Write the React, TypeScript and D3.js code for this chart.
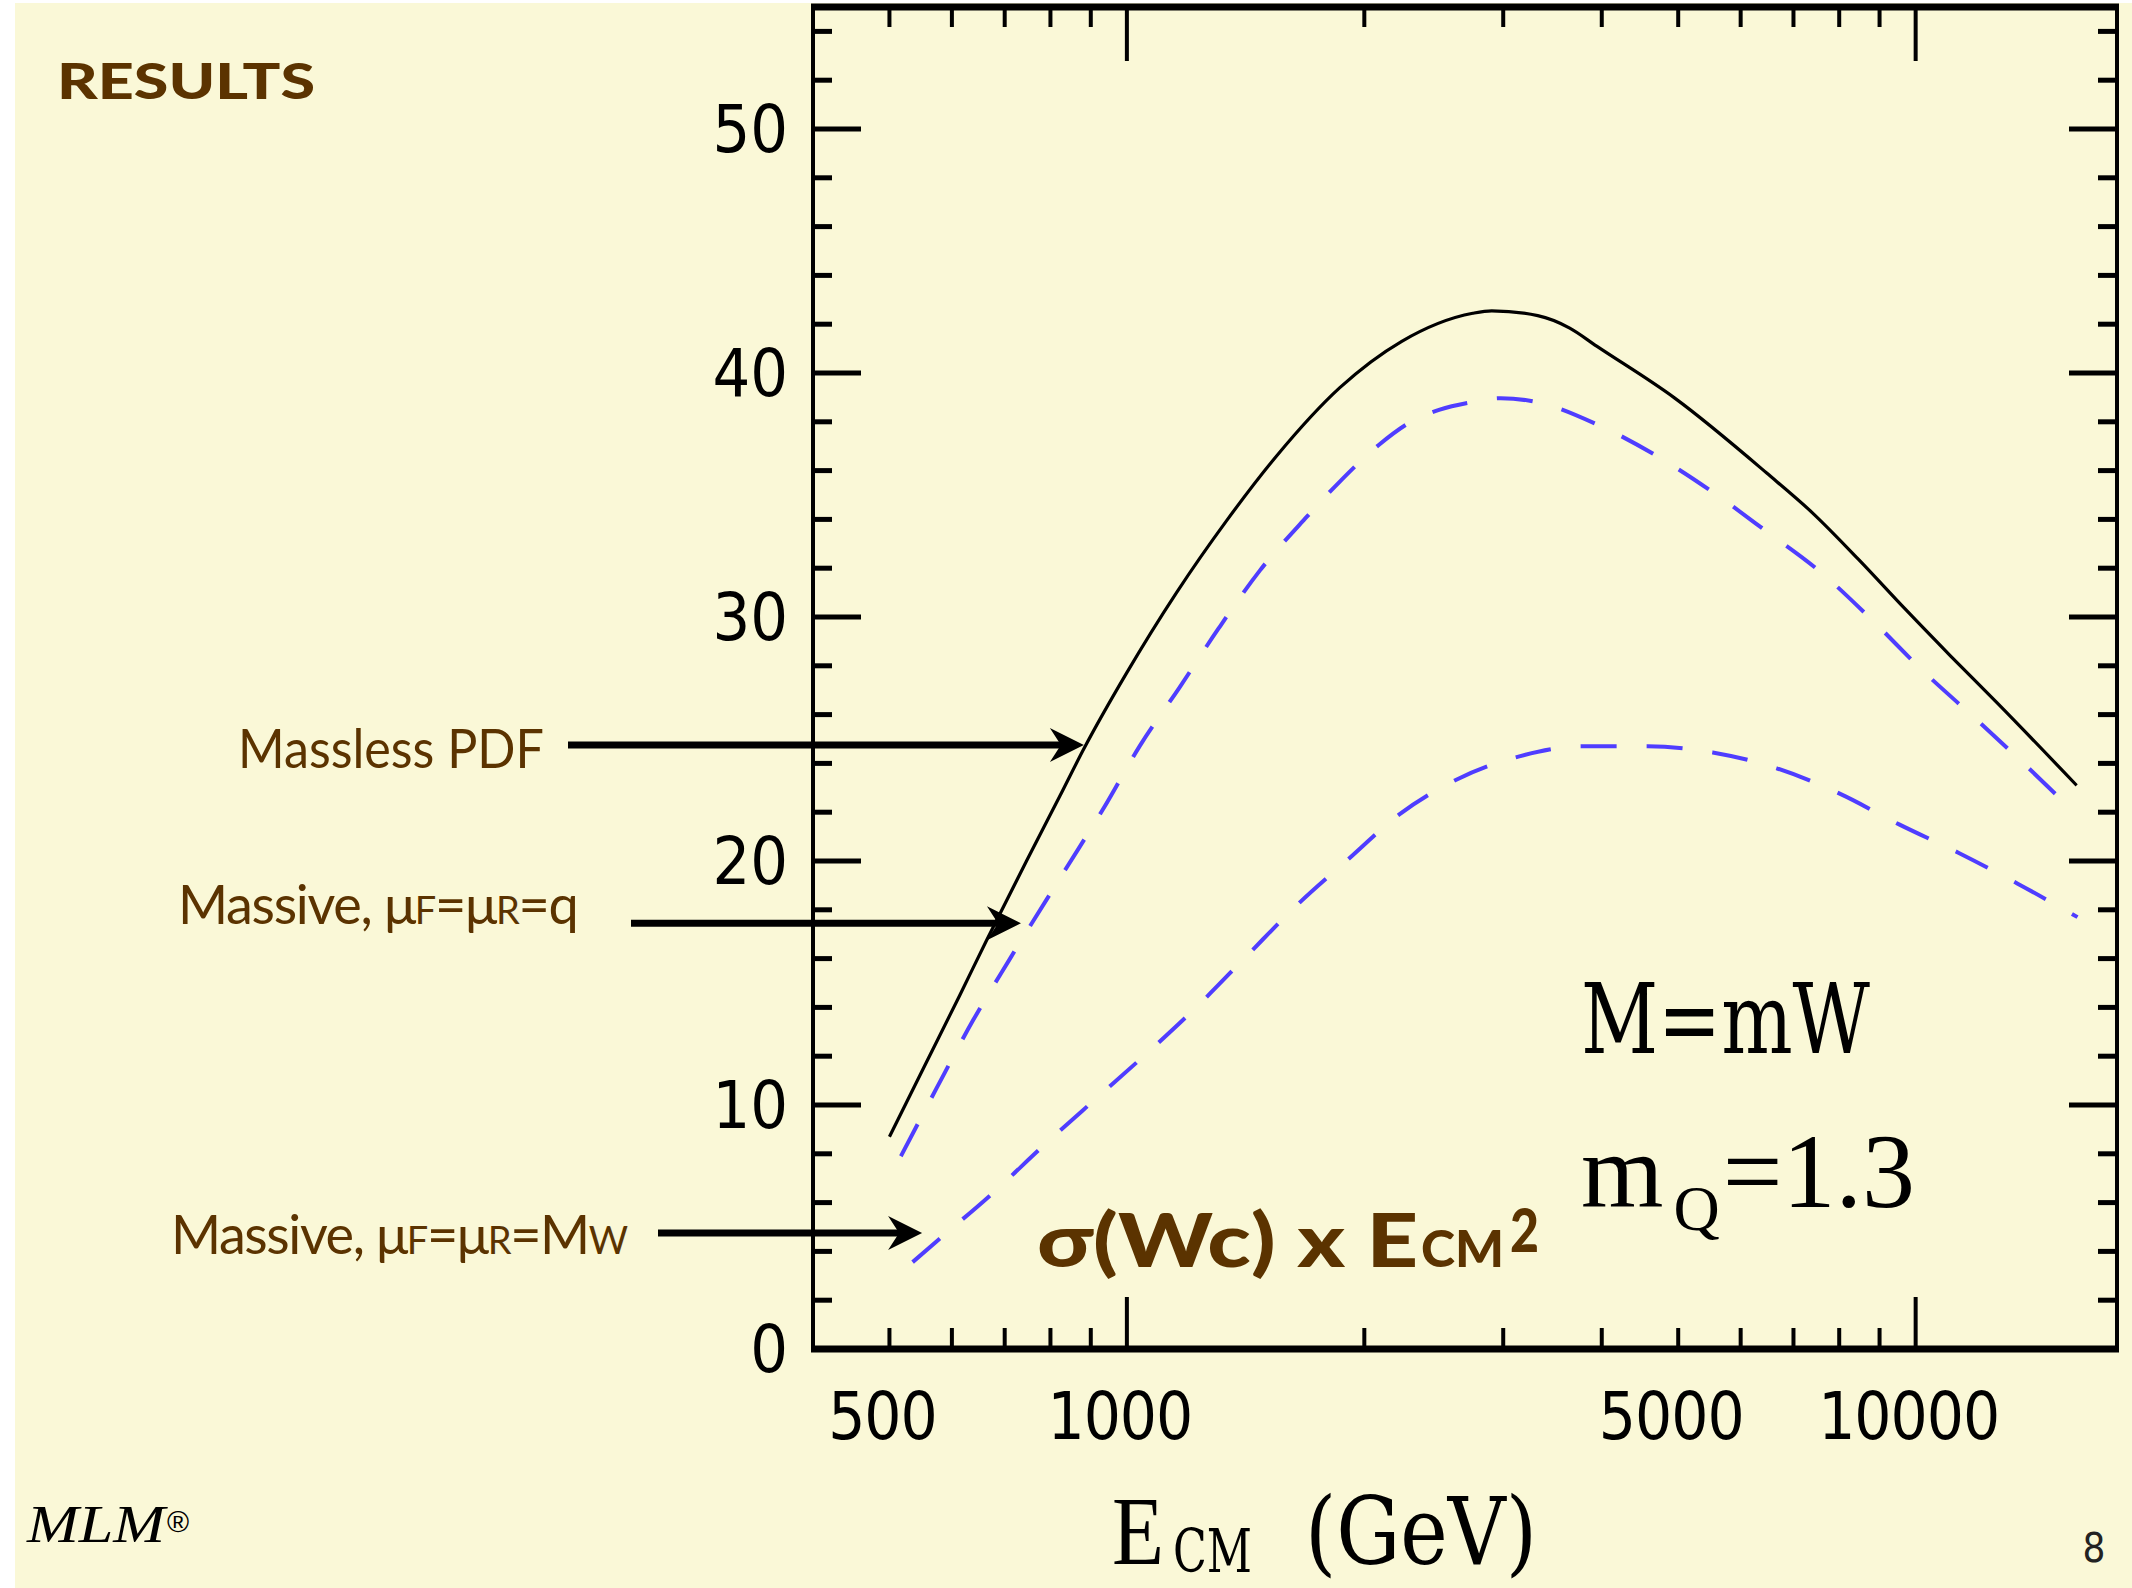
import { useEffect } from 'react'
import * as d3 from 'd3'

// sigma(Wc) x Ecm^2 vs Ecm (GeV)
const masslessPdf: [number, number][] = [
  [500, 8.7], [557, 11.75], [614, 14.5], [664, 16.75], [746, 20.0], [822, 22.65], [882, 24.6],
  [999, 27.7], [1156, 31.0], [1338, 33.95], [1548, 36.6], [1862, 39.4], [2231, 41.3],
  [2745, 42.45], [2901, 42.55], [3318, 42.35], [3643, 41.84], [3941, 41.1], [4950, 38.97],
  [6474, 35.9], [7404, 34.26], [8470, 32.35], [9683, 30.35], [11076, 28.4], [12668, 26.5],
  [16000, 23.1],
]
const massiveQ: [number, number][] = [
  [517, 7.9], [574, 10.7], [639, 13.5], [711, 16.0], [835, 19.63], [933, 22.13],
  [1039, 24.73], [1167, 27.13], [1305, 29.5], [1474, 31.9], [1690, 34.1], [1862, 35.55],
  [2086, 37.05], [2278, 37.95], [2493, 38.5], [2729, 38.8], [2979, 38.97], [3318, 38.8],
  [3941, 37.9], [4697, 36.6], [5512, 35.15], [6474, 33.5], [7602, 31.8], [8822, 29.85],
  [10207, 27.8], [11844, 25.9], [13707, 24.0], [16000, 21.9],
]
const massiveMw: [number, number][] = [
  [535, 3.56], [578, 4.5], [676, 6.39], [785, 8.35], [912, 10.24], [1060, 12.12],
  [1231, 14.08], [1420, 16.12], [1639, 18.16], [1905, 20.05], [2213, 21.9], [2620, 23.34],
  [3145, 24.29], [3784, 24.7], [4574, 24.7], [5530, 24.45], [6665, 23.8], [8023, 22.75],
  [9528, 21.5], [11327, 20.34], [13469, 19.07], [16040, 17.7],
]

const xLabels = [500, 1000, 5000, 10000]
const xMajor = [1000, 10000]
const xMinor = [500, 600, 700, 800, 900, 2000, 3000, 4000, 5000, 6000, 7000, 8000, 9000]
const yMajor = [0, 10, 20, 30, 40, 50]
const yMinor = [2, 4, 6, 8, 12, 14, 16, 18, 22, 24, 26, 28, 32, 34, 36, 38, 42, 44, 46, 48, 52, 54]

// arrows point at these (E, value) spots
const arrowTipE = [882, 734, 550]
const arrowTipV = [24.75, 17.45, 4.75]

const BG = '#faf8d7'
const BROWN = '#5b3300'
const BLUE = '#4f3dff'
const SANS = 'Lato, "Open Sans", sans-serif'
const NUM = '"Liberation Sans Narrow", "DejaVu Sans Condensed", "Liberation Sans", sans-serif'
const SERIF = '"DejaVu Serif", "Liberation Serif", serif'
const LSERIF = '"Liberation Serif", serif'

const App = () => {
  useEffect(() => {
    document.body.style.margin = '0'
  }, [])

  const W = 2132
  const H = 1588
  const left = 813, right = 2117, top = 7, bottom = 1349

  const x = d3.scaleLog().domain([400, 18000]).range([left, right])
  const y = d3.scaleLinear().domain([0, 55]).range([bottom, top])

  const line = d3.line<[number, number]>()
    .x(d => x(d[0]))
    .y(d => y(d[1]))
    .curve(d3.curveMonotoneX)

  const arrowTails = [568, 631, 658]
  const arrow = (i: number) => {
    const tx = x(arrowTipE[i])
    const ty = y(arrowTipV[i])
    return (
      <g key={'a' + i}>
        <line x1={arrowTails[i]} y1={ty} x2={tx - 22} y2={ty} stroke="#000" strokeWidth={7} />
        <path d={`M${tx},${ty} L${tx - 34},${ty - 17} L${tx - 23},${ty} L${tx - 34},${ty + 17} Z`} fill="#000" />
      </g>
    )
  }

  return (
    <svg width={W} height={H} style={{ display: 'block' }}>
      <rect x={0} y={0} width={W} height={H} fill="#fff" />
      <rect x={15} y={3} width={W - 15} height={H - 3} fill={BG} />

      {/* title */}
      <text x={57} y={99} fontFamily={SANS} fontWeight={900} fontSize={50} fill={BROWN}
        textLength={258} lengthAdjust="spacingAndGlyphs">RESULTS</text>

      {/* curves */}
      <path d={line(massiveMw) || ''} fill="none" stroke={BLUE} strokeWidth={4} strokeDasharray="36 30" />
      <path d={line(massiveQ) || ''} fill="none" stroke={BLUE} strokeWidth={4} strokeDasharray="36 30" />
      <path d={line(masslessPdf) || ''} fill="none" stroke="#000" strokeWidth={3.2} />

      {/* frame */}
      <line x1={left} y1={top} x2={left} y2={bottom} stroke="#000" strokeWidth={4} />
      <line x1={right} y1={top} x2={right} y2={bottom} stroke="#000" strokeWidth={4} />
      <line x1={left - 2} y1={top} x2={right + 2} y2={top} stroke="#000" strokeWidth={7} />
      <line x1={left - 2} y1={bottom} x2={right + 2} y2={bottom} stroke="#000" strokeWidth={7} />

      {/* x ticks */}
      {xMinor.map(v => (
        <g key={'xm' + v}>
          <line x1={x(v)} x2={x(v)} y1={bottom} y2={bottom - 21} stroke="#000" strokeWidth={4} />
          <line x1={x(v)} x2={x(v)} y1={top} y2={top + 20} stroke="#000" strokeWidth={4} />
        </g>
      ))}
      {xMajor.map(v => (
        <g key={'xM' + v}>
          <line x1={x(v)} x2={x(v)} y1={bottom} y2={bottom - 52} stroke="#000" strokeWidth={4} />
          <line x1={x(v)} x2={x(v)} y1={top} y2={top + 54} stroke="#000" strokeWidth={4} />
        </g>
      ))}
      {xLabels.map(v => (
        <text key={'xl' + v} x={x(v) - 7} y={1439} textAnchor="middle" fontFamily={NUM}
          fontSize={65} letterSpacing={-1} fill="#000">{v}</text>
      ))}

      {/* y ticks */}
      {yMinor.map(v => (
        <g key={'ym' + v}>
          <line x1={left} x2={left + 19} y1={y(v)} y2={y(v)} stroke="#000" strokeWidth={5} />
          <line x1={right} x2={right - 19} y1={y(v)} y2={y(v)} stroke="#000" strokeWidth={5} />
        </g>
      ))}
      {yMajor.filter(v => v > 0).map(v => (
        <g key={'yM' + v}>
          <line x1={left} x2={left + 48} y1={y(v)} y2={y(v)} stroke="#000" strokeWidth={5} />
          <line x1={right} x2={right - 48} y1={y(v)} y2={y(v)} stroke="#000" strokeWidth={5} />
        </g>
      ))}
      {yMajor.map(v => (
        <text key={'yl' + v} x={788} y={y(v) + 23} textAnchor="end" fontFamily={NUM}
          fontSize={66} fill="#000">{v}</text>
      ))}

      {/* x axis title */}
      <text x={1112} y={1564} fontFamily={LSERIF} fontSize={98} fill="#000"
        textLength={52} lengthAdjust="spacingAndGlyphs">E</text>
      <text x={1173} y={1572} fontFamily={SERIF} fontSize={60} fill="#000"
        textLength={79} lengthAdjust="spacingAndGlyphs">CM</text>
      <text x={1305} y={1564} fontFamily={SERIF} fontSize={94} fill="#000"
        textLength={232} lengthAdjust="spacingAndGlyphs">(GeV)</text>

      {/* parameters */}
      <text x={1581} y={1053} fontFamily={SERIF} fontSize={98} fill="#000"
        textLength={289} lengthAdjust="spacingAndGlyphs">M=mW</text>
      <text x={1581} y={1207} fontFamily={LSERIF} fontSize={106} fill="#000">
        m<tspan fontSize={64} dx={10} dy={23}>Q</tspan><tspan dx={3} dy={-23}>=1.3</tspan>
      </text>

      {/* sigma label */}
      <text x={1037} y={1267} fontFamily={SANS} fontWeight={900} fontSize={75} fill={BROWN}
        textLength={381} lengthAdjust="spacingAndGlyphs">σ(Wc) x E</text>
      <text x={1421} y={1267} fontFamily={SANS} fontWeight={900} fontSize={52} fill={BROWN}
        textLength={83} lengthAdjust="spacingAndGlyphs">CM</text>
      <text x={1510} y={1252} fontFamily={SANS} fontWeight={900} fontSize={60} fill={BROWN}
        textLength={29} lengthAdjust="spacingAndGlyphs">2</text>

      {/* annotations */}
      <text x={238} y={768} fontFamily={SANS} fontSize={54} fill={BROWN}
        textLength={306} lengthAdjust="spacingAndGlyphs">Massless PDF</text>
      <text x={178} y={924} fontFamily={SANS} fontSize={54} letterSpacing={-1.3} fill={BROWN}>
        Massive, μ<tspan fontSize={38}>F</tspan>=μ<tspan fontSize={38}>R</tspan>=q
      </text>
      <text x={171} y={1254} fontFamily={SANS} fontSize={54} letterSpacing={-1.4} fill={BROWN}>
        Massive, μ<tspan fontSize={38}>F</tspan>=μ<tspan fontSize={38}>R</tspan>=M<tspan fontSize={38}>W</tspan>
      </text>
      {[0, 1, 2].map(arrow)}

      {/* footer */}
      <text x={27} y={1542} fontFamily={LSERIF} fontStyle="italic" fontSize={52}
        fill="#000" textLength={138} lengthAdjust="spacingAndGlyphs">MLM</text>
      <text x={167} y={1532} fontFamily={'"Liberation Sans", sans-serif'} fontSize={30} fill="#000">®</text>
      <text x={2094} y={1562} textAnchor="middle" fontFamily={NUM} fontSize={40} fill="#222">8</text>
    </svg>
  )
}

export default App
